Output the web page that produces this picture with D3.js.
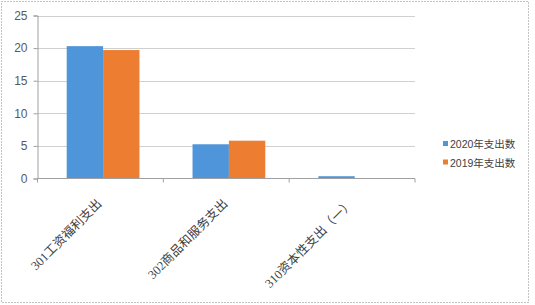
<!DOCTYPE html>
<html><head><meta charset="utf-8">
<script src="https://cdn.jsdelivr.net/npm/d3@7"></script>
<style>body{margin:0;background:#fff}svg{display:block}</style>
</head><body>
<script>
const categories = ["301工资福利支出", "302商品和服务支出", "310资本性支出（一）"];
const seriesNames = ["2020年支出数", "2019年支出数"];
const values2020 = [20.3, 5.25, 0.35];
const values2019 = [19.7, 5.8, 0];
const yTicks = [0, 5, 10, 15, 20, 25];
const colors = ["#4E95D9", "#ED7D31"];

const W = 535, H = 305;
const svg = d3.select("body").append("svg").attr("width", W).attr("height", H);
svg.append("rect").attr("x", 1.5).attr("y", 1.5).attr("width", W - 8).attr("height", H - 4)
  .attr("fill", "#fff").attr("stroke", "#888").attr("stroke-dasharray", "1,2");

const x0 = 37.5, x1 = 415, yTop = 15.5, yBot = 178.5;
const x = d3.scaleBand().domain(categories).range([x0, x1]).paddingInner(0).paddingOuter(0);
const inner = d3.scaleBand().domain(seriesNames).range([0, x.bandwidth()]).paddingInner(0).paddingOuter(0.73).align(0.55);
const y = d3.scaleLinear().domain([0, 25]).range([yBot, yTop]);

// gridlines
svg.append("g").selectAll("line").data(yTicks.filter(d => d > 0)).join("line")
  .attr("x1", x0).attr("x2", x1).attr("y1", d => Math.round(y(d)) + 0.5).attr("y2", d => Math.round(y(d)) + 0.5)
  .attr("stroke", "#a0a0a0").attr("stroke-dasharray", "1,1");

// bars
const series = [values2020, values2019];
series.forEach((vals, si) => {
  svg.append("g").selectAll("rect").data(categories).join("rect")
    .attr("x", (c) => x(c) + inner(seriesNames[si]))
    .attr("width", inner.bandwidth())
    .attr("y", (c, i) => y(vals[i]))
    .attr("height", (c, i) => y(0) - y(vals[i]))
    .attr("fill", colors[si]);
});

// y axis
const yAxis = svg.append("g").attr("transform", `translate(${x0},0)`)
  .call(d3.axisLeft(y).tickValues(yTicks).tickSize(4).tickPadding(6));
yAxis.select(".domain").attr("stroke", "#a0a0a0");
yAxis.selectAll(".tick line").attr("stroke", "#a0a0a0");
yAxis.selectAll("text").attr("fill", "#595959").style("font-family", "Liberation Sans, Arial").style("font-size", "12px");

// x axis
const xAxisG = svg.append("g").attr("transform", `translate(0,${yBot})`);
xAxisG.append("line").attr("x1", x0).attr("x2", x1).attr("stroke", "#a0a0a0");
const tickPos = categories.map(c => x(c)).concat([x1]);
xAxisG.selectAll("line.t").data(tickPos).join("line").attr("class", "t")
  .attr("x1", d => d).attr("x2", d => d).attr("y1", 0).attr("y2", 4).attr("stroke", "#a0a0a0");

svg.append("g").selectAll("text").data(categories).join("text")
  .attr("transform", c => `translate(${x(c) + x.bandwidth() / 2 + 2},${yBot + 26}) rotate(-45)`)
  .attr("text-anchor", "end")
  .attr("fill", "#404040")
  .style("font-family", "Liberation Serif, 'Noto Sans CJK SC'")
  .style("font-size", "12.5px")
  .text(c => c);

// legend
const leg = svg.append("g");
seriesNames.forEach((n, i) => {
  const ly = 144 + i * 18.5;
  leg.append("rect").attr("x", 443).attr("y", ly - 3).attr("width", 5).attr("height", 5).attr("fill", colors[i]);
  leg.append("text").attr("x", 450).attr("y", ly + 4).attr("fill", "#404040")
    .style("font-family", "Liberation Sans, 'Noto Sans CJK SC'").style("font-size", "10.5px").text(n);
});
</script>
</body></html>
